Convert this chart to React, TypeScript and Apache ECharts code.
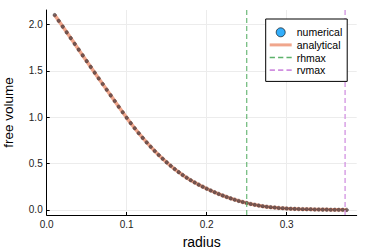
import React, { useEffect, useRef } from "react";
import * as echarts from "echarts";

const radius = [
  0.010, 0.015, 0.020, 0.025, 0.030, 0.035, 0.040, 0.045, 0.050, 0.055,
  0.060, 0.065, 0.070, 0.075, 0.080, 0.085, 0.090, 0.095, 0.100, 0.105,
  0.110, 0.115, 0.120, 0.125, 0.130, 0.135, 0.140, 0.145, 0.150, 0.155,
  0.160, 0.165, 0.170, 0.175, 0.180, 0.185, 0.190, 0.195, 0.200, 0.205,
  0.210, 0.215, 0.220, 0.225, 0.230, 0.235, 0.240, 0.245, 0.250, 0.255,
  0.260, 0.265, 0.270, 0.275, 0.280, 0.285, 0.290, 0.295, 0.300, 0.305,
  0.310, 0.315, 0.320, 0.325, 0.330, 0.335, 0.340, 0.345, 0.350, 0.355,
  0.360, 0.365, 0.370, 0.375,
];

const freeVolume = [
  2.100, 2.038, 1.976, 1.914, 1.852, 1.790, 1.728, 1.666, 1.604, 1.542,
  1.480, 1.418, 1.357, 1.296, 1.235, 1.174, 1.113, 1.053, 0.993, 0.936,
  0.881, 0.828, 0.777, 0.728, 0.681, 0.636, 0.593, 0.552, 0.513, 0.476,
  0.441, 0.408, 0.377, 0.348, 0.321, 0.296, 0.273, 0.251, 0.230, 0.210,
  0.191, 0.173, 0.156, 0.140, 0.125, 0.111, 0.098, 0.086, 0.075, 0.065,
  0.056, 0.048, 0.041, 0.035, 0.030, 0.026, 0.022, 0.019, 0.016, 0.014,
  0.012, 0.010, 0.009, 0.008, 0.007, 0.006, 0.005, 0.004, 0.004, 0.003,
  0.003, 0.002, 0.002, 0.001,
];

const rhmax = 0.25;
const rvmax = 0.373;

const xTicks = [0.0, 0.1, 0.2, 0.3];
const yTicks = [0.0, 0.5, 1.0, 1.5, 2.0];
const xRange = [0, 0.3875];
const yRange = [-0.054, 2.155];

const FONT = "Liberation Sans, Arial, sans-serif";
const SALMON = "#F0A68C";
const GREEN = "#5DB26B";
const PURPLE = "#D08FE0";

const solidIcon = "path://M0,0H22V3H0Z";
const dashIcon = "path://M0,0H5V1.6H0Z M8,0H13V1.6H8Z M16,0H21V1.6H16Z";

export default function App() {
  const ref = useRef<HTMLDivElement>(null);
  useEffect(() => {
    if (!ref.current) return;
    const chart = echarts.init(ref.current, null, { renderer: "svg" });
    const pts = radius.map((r, i) => [r, freeVolume[i]]);
    const fmt = (v: number) => v.toFixed(1);
    chart.setOption({
      animation: false,
      grid: { left: 46.7, right: 17.3, top: 10, bottom: 34, containLabel: false, outerBoundsMode: "none" },
      xAxis: {
        type: "value",
        min: xRange[0],
        max: xRange[1],
        name: "radius",
        nameLocation: "middle",
        nameGap: 20,
        nameTextStyle: { fontFamily: FONT, fontSize: 14, color: "#000" },
        axisLine: { onZero: false, lineStyle: { color: "#000", width: 1 } },
        axisTick: { show: true, inside: true, length: 3, customValues: xTicks, lineStyle: { color: "#000" } },
        axisLabel: { customValues: xTicks, formatter: fmt, fontFamily: FONT, fontSize: 10, color: "#222", margin: 4 },
        splitLine: { show: true, customValues: xTicks, lineStyle: { color: "#ececec", width: 1 } },
      },
      yAxis: {
        type: "value",
        min: yRange[0],
        max: yRange[1],
        name: "free volume",
        nameLocation: "middle",
        nameGap: 31,
        nameTextStyle: { fontFamily: FONT, fontSize: 13.5, color: "#000" },
        axisLine: { show: true, onZero: false, lineStyle: { color: "#000", width: 1 } },
        axisTick: { show: true, inside: true, length: 3, customValues: yTicks, lineStyle: { color: "#000" } },
        axisLabel: { customValues: yTicks, formatter: fmt, fontFamily: FONT, fontSize: 10, color: "#222", margin: 4 },
        splitLine: { show: true, customValues: yTicks, lineStyle: { color: "#ececec", width: 1 } },
      },
      legend: {
        orient: "vertical",
        left: 265.7,
        top: 19,
        padding: [7, 5, 5, 4],
        backgroundColor: "#fff",
        borderColor: "#000",
        borderWidth: 1,
        borderRadius: 0,
        itemWidth: 22,
        itemHeight: 9,
        itemGap: 0,
        z: 10,
        textStyle: { fontFamily: FONT, fontSize: 10.5, color: "#000", lineHeight: 12.6 },
        data: [
          { name: "numerical", icon: "circle", itemStyle: { color: "#009AFA", borderColor: "#000", borderWidth: 0.8 } },
          { name: "analytical", icon: solidIcon, itemStyle: { color: SALMON, borderWidth: 0 } },
          { name: "rhmax", icon: dashIcon, itemStyle: { color: GREEN, borderWidth: 0 } },
          { name: "rvmax", icon: dashIcon, itemStyle: { color: PURPLE, borderWidth: 0 } },
        ],
      },
      series: [
        {
          name: "analytical",
          type: "line",
          data: pts,
          symbol: "none",
          z: 2,
          lineStyle: { color: SALMON, width: 3.5 },
          itemStyle: { color: SALMON },
        },
        {
          name: "numerical",
          type: "scatter",
          data: pts,
          symbol: "circle",
          symbolSize: 3.5,
          z: 3,
          itemStyle: { color: "#5a4242", borderColor: "#3a2a2a", borderWidth: 0.5 },
        },
        {
          name: "rhmax",
          type: "line",
          data: [[rhmax, yRange[0]], [rhmax, yRange[1]]],
          symbol: "none",
          z: 4,
          lineStyle: { color: GREEN, width: 1.3, opacity: 0.85, type: [5, 3] },
          itemStyle: { color: GREEN },
        },
        {
          name: "rvmax",
          type: "line",
          data: [[rvmax, yRange[0]], [rvmax, yRange[1]]],
          symbol: "none",
          z: 4,
          lineStyle: { color: PURPLE, width: 1.5, opacity: 0.85, type: [5, 3] },
          itemStyle: { color: PURPLE },
        },
      ],
    });
    return () => chart.dispose();
  }, []);
  return <div ref={ref} style={{ width: 374, height: 249, position: "absolute", left: 0, top: 0 }} />;
}
